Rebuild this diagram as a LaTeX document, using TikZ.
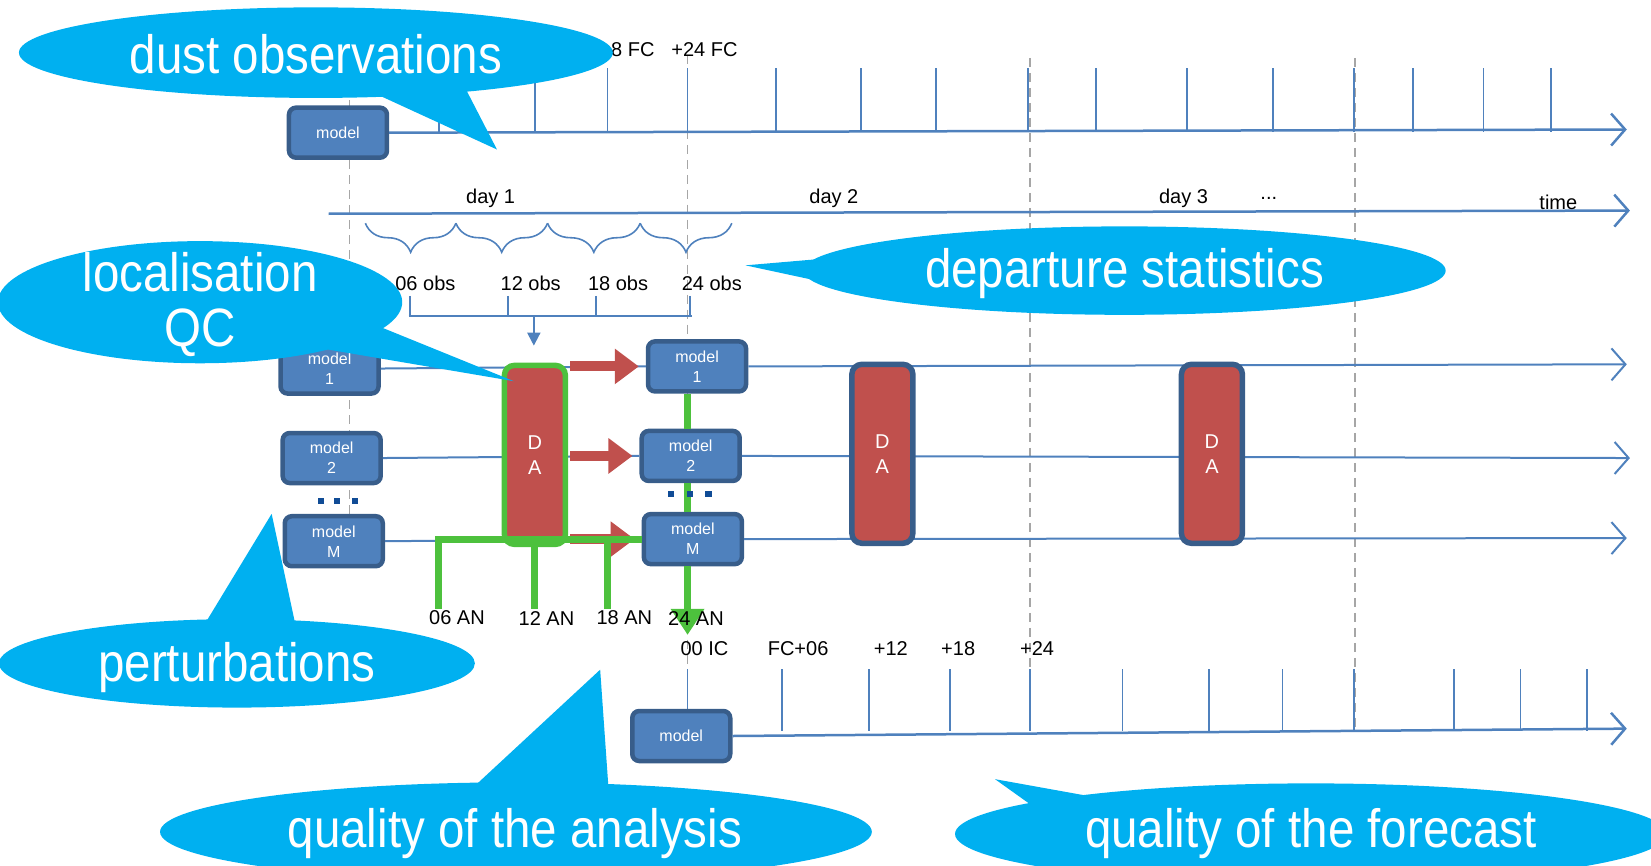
\documentclass[tikz,border=0pt]{standalone}
\usepackage{fontspec}
\setmainfont{Liberation Sans}
\newfontfamily\bubblefont{Liberation Sans}[FakeStretch=0.88]
\usetikzlibrary{arrows.meta,decorations.pathreplacing}
\definecolor{mblue}{RGB}{79,129,189}
\definecolor{mborder}{RGB}{56,93,138}
\definecolor{dared}{RGB}{192,80,77}
\definecolor{angreen}{RGB}{77,193,61}
\definecolor{callcyan}{RGB}{0,176,240}
\definecolor{guidegray}{RGB}{166,166,166}
\definecolor{dotblue}{RGB}{16,76,150}
\tikzstyle{model} = [rectangle, rounded corners=7pt, minimum width=98pt, minimum height=50pt, align=center, draw=mborder, line width=4.5pt, fill=mblue, text=white, inner sep=2pt, font=\fontsize{16}{20}\selectfont]
\tikzstyle{dabox} = [rectangle, rounded corners=10pt, minimum width=61pt, minimum height=179pt, align=center, draw=mborder, line width=5.5pt, fill=dared, text=white, inner sep=2pt, font=\fontsize{20}{25}\selectfont]
\tikzstyle{lbl} = [inner sep=0pt, font=\fontsize{20}{24}\selectfont]
\tikzstyle{bubble} = [fill=callcyan]
\tikzstyle{bubbletext} = [inner sep=0pt, align=center, text=white, font=\bubblefont\fontsize{54}{55}\selectfont]
\tikzstyle{timeaxis} = [draw=mblue, line width=2.5pt, -{Straight Barb[length=14pt,width=32pt]}]
\tikzstyle{axtick} = [draw=mblue, line width=1.8pt]
\tikzstyle{rowline} = [draw=mblue, line width=2pt]
\tikzstyle{rowarrow} = [rowline, -{Straight Barb[length=14pt,width=32pt]}]
\tikzstyle{dayline} = [draw=guidegray, line width=1.5pt, dash pattern=on 9pt off 6pt]
\tikzstyle{obsbrace} = [draw=mblue, line width=1.6pt, decorate, decoration={brace,mirror,amplitude=29pt}]
\tikzstyle{feed} = [draw=dared, line width=10pt, -{Triangle[length=24pt,width=34pt]}]
\tikzstyle{anline} = [draw=angreen, line width=7pt]
\tikzstyle{dotsq} = [fill=dotblue]

\begin{document}
\begin{tikzpicture}[x=1.053pt,y=-1.053pt]
\useasboundingbox (0,0) rectangle (1568,822);
\clip (0,0) rectangle (1568,822);
\foreach \x/\a/\b in {332/95/490,653/52/682,978/55/690,1287/55/690}
  \draw[dayline] (\x,\a) -- (\x,\b);
\foreach \x in {417,508,577,653,737,818,889,976,1041,1127,1209,1286,1342,1409,1473}
  \draw[axtick] (\x,125) -- (\x,65);
\foreach \x in {653,743,825,902,978,1066,1148,1218,1286,1381,1444,1507}
  \draw[axtick] (\x,694) -- (\x,635);

\node (mtop) [model] at (321,126) {model};
\node (mA1) [model] at (313,350) {model\\1};
\node (mA2) [model] at (315,435) {model\\2};
\node (mAM) [model] at (317,514) {model\\M};
\node (mB1) [model] at (662,348) {model\\1};
\node (mB2) [model] at (656,433) {model\\2};
\node (mBM) [model] at (658,512) {model\\M};
\node (mbot) [model] at (647,699) {model};

\coordinate (fcend) at (1545,123);
\coordinate (t0) at (312,203);
\coordinate (tend) at (1548,200);
\coordinate (r1end) at (1545,346);
\coordinate (r2end) at (1548,435);
\coordinate (rMend) at (1545,511);
\coordinate (botend) at (1545,692);
\draw[timeaxis] (mtop.east) -- (fcend);
\draw[timeaxis] (t0) -- (tend);
\draw[timeaxis] (mbot.east) -- (botend);
\draw[rowline] (mA1.east) -- (mB1.west);
\draw[rowline] (mA2.east) -- (mB2.west);
\draw[rowline] (mAM.east) -- (mBM.west);
\draw[rowarrow] (mB1.east) -- (r1end);
\draw[rowarrow] (mB2.east) -- (r2end);
\draw[rowarrow] (mBM.east) -- (rMend);

\node (da1) [dabox, draw=angreen] at (508,432) {D\\A};
\node (da2) [dabox] at (838,431) {D\\A};
\node (da3) [dabox] at (1151,431) {D\\A};

\foreach \a/\b in {347/433,433/520,520/608,608/695}
  \draw[obsbrace] (\a,212) -- (\b,212);
\draw[rowline] (388,300) -- (657,300);
\foreach \x in {389,482,566,655}
  \draw[rowline] (\x,281) -- (\x,300);
\coordinate (obsbar) at (507,300);
\draw[rowline, -{Triangle[length=13pt,width=13pt]}, shorten >=17pt] (obsbar) -- (obsbar |- da1.north);

\draw[feed, shorten <=2pt, shorten >=7pt] (da1.east |- mB1.west) -- (mB1.west);
\draw[feed, shorten <=2pt, shorten >=7pt] (da1.east |- mB2.west) -- (mB2.west);
\draw[feed, shorten <=2pt, shorten >=7pt] (da1.east |- mBM.west) -- (mBM.west);

\coordinate (ic) at (653,603);
\coordinate (ang06) at (416,578);
\coordinate (ang12) at (508,578);
\coordinate (ang18) at (577,578);
\draw[anline] (mB1.south -| ic) -- (mB2.north -| ic);
\draw[anline] (mB2.south -| ic) -- (mBM.north -| ic);
\draw[anline, -{Triangle[length=26pt,width=32pt]}] (mBM.south -| ic) -- (ic);
\draw[anline] (ang06) |- (mBM.west);
\draw[anline] (ang12) -- (ang12 |- mBM.west);
\draw[anline] (ang18) -- (ang18 |- mBM.west);
\foreach \x in {305,320,337}
  \fill[dotsq] (\x-3,473) rectangle (\x+3,479);
\foreach \x in {637,655,673}
  \fill[dotsq] (\x-3,466) rectangle (\x+3,472);

\node (fc18) [lbl] at (601,47) {8 FC};
\node (fc24) [lbl] at (669,47) {+24 FC};
\node (day1) [lbl] at (466,188) {day 1};
\node (day2) [lbl] at (792,188) {day 2};
\node (day3) [lbl] at (1124,188) {day 3};
\node (dayn) [lbl] at (1205,188) {...};
\node (time) [lbl] at (1480,192) {time};
\node (obs06) [lbl] at (404,269) {06 obs};
\node (obs12) [lbl] at (504,269) {12 obs};
\node (obs18) [lbl] at (587,269) {18 obs};
\node (obs24) [lbl] at (676,269) {24 obs};
\node (an06) [lbl] at (434,587) {06 AN};
\node (an12) [lbl] at (519,587) {12 AN};
\node (an18) [lbl] at (593,587) {18 AN};
\node (an24) [lbl] at (661,587) {24 AN};
\node (ic00) [lbl] at (669,616) {00 IC};
\node (fc06) [lbl] at (758,616) {FC+06};
\node (fc12) [lbl] at (846,616) {+12};
\node (fc18b) [lbl] at (910,616) {+18};
\node (fc24b) [lbl] at (985,616) {+24};

\fill[bubble] (300,50) ellipse [x radius=282, y radius=43];
\fill[bubble] (337,80) -- (472,142) -- (440,80) -- cycle;
\node (dustobs) [bubbletext] at (300,51) {dust observations};
\fill[bubble] (190,287) ellipse [x radius=192, y radius=58];
\fill[bubble] (355,308) -- (488,362) -- (300,330) -- cycle;
\node (locqc) [bubbletext] at (190,289) {localisation\\QC};
\fill[bubble] (1068,257) ellipse [x radius=305, y radius=42];
\fill[bubble] (790,245) -- (708,252) -- (815,275) -- cycle;
\node (depstat) [bubbletext] at (1068,260) {departure statistics};
\fill[bubble] (225,630) ellipse [x radius=226, y radius=42];
\fill[bubble] (190,600) -- (258,488) -- (282,600) -- cycle;
\node (perturb) [bubbletext] at (225,634) {perturbations};
\fill[bubble] (490,790) ellipse [x radius=338, y radius=47];
\fill[bubble] (447,750) -- (570,636) -- (578,750) -- cycle;
\node (qualan) [bubbletext] at (489,792) {quality of the analysis};
\fill[bubble] (1245,792) ellipse [x radius=338, y radius=48];
\fill[bubble] (1045,758) -- (945,740) -- (980,765) -- cycle;
\node (qualfc) [bubbletext] at (1245,792) {quality of the forecast};
\end{tikzpicture}
\end{document}
